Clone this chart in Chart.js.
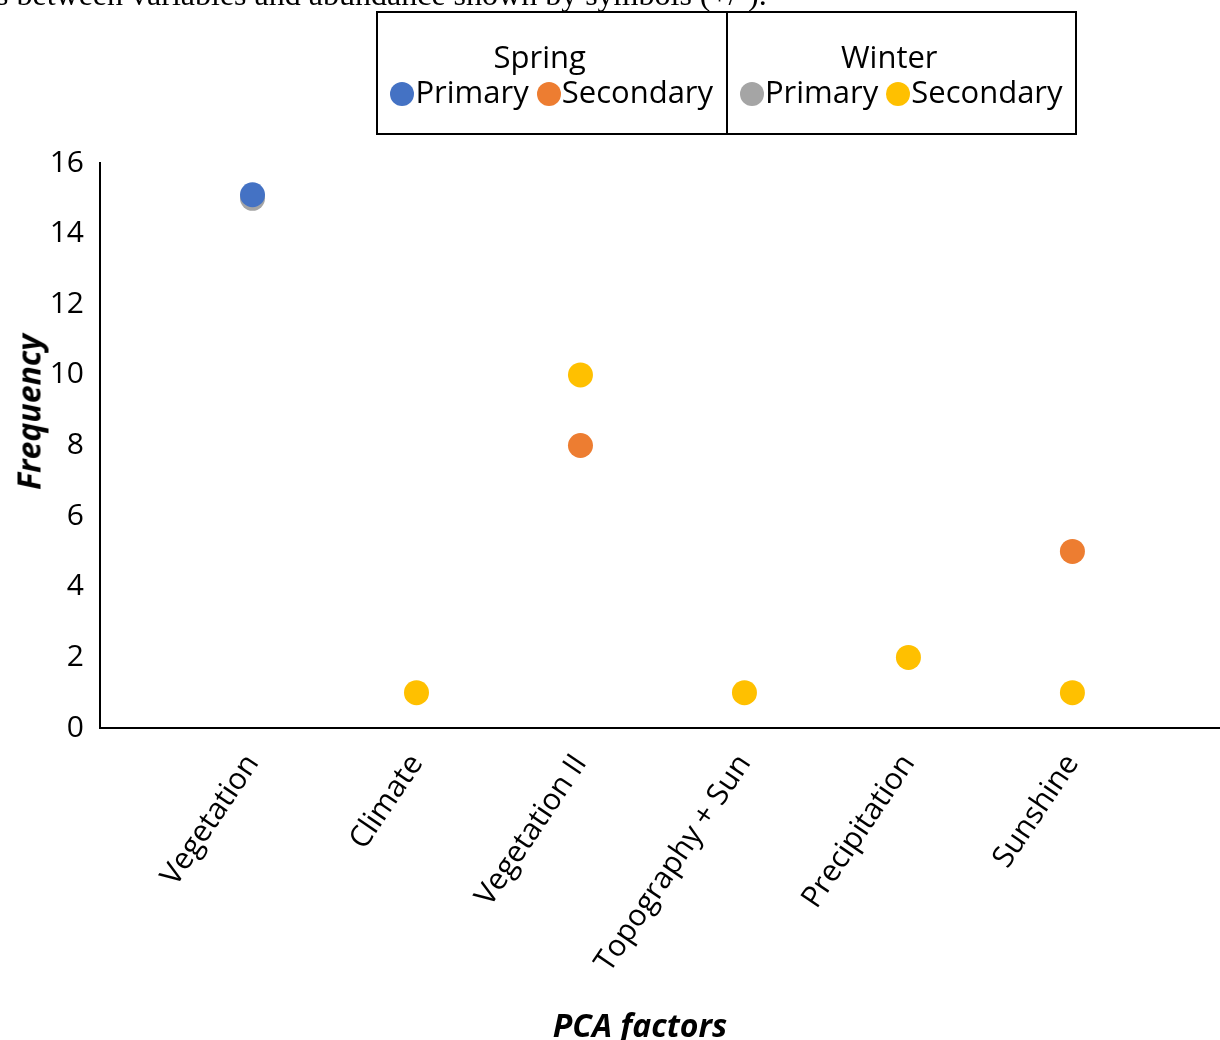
<!DOCTYPE html>
<html>
<head>
<meta charset="utf-8">
<script src="https://cdn.jsdelivr.net/npm/chart.js@4/dist/chart.umd.min.js"></script>
<style>
  html, body { margin: 0; padding: 0; background: #fff; overflow: hidden; }
  #wrap { position: relative; width: 1220px; height: 1040px; overflow: hidden; }
  #chart { position: absolute; left: 0; top: 0; }
  #caption {
    position: absolute; left: -4px; top: -24px; white-space: nowrap;
    font-family: "Liberation Serif", "Times New Roman", serif; font-size: 32px; color: #000;
  }
  #legend {
    position: absolute; left: 376px; top: 11px; width: 701px; height: 124px;
    border: 2px solid #000; box-sizing: border-box; display: flex;
    font-family: "Open Sans", "Noto Sans", sans-serif; color: #000;
  }
  .half { flex: 1; position: relative; }
  .half + .half { border-left: 2px solid #000; }
  .ttl { position: absolute; left: 0; right: 24px; top: 24px; text-align: center; font-size: 31px; line-height: 38px; }
  .row { position: absolute; left: 0; right: 0; top: 59px; text-align: center; font-size: 31px; line-height: 38px; white-space: nowrap; }
  .dot { display: inline-block; width: 24px; height: 24px; border-radius: 50%; vertical-align: -3px; margin-right: 1px; }
  .axtitle {
    position: absolute; white-space: nowrap; color: #000;
    font-family: "Open Sans", "Noto Sans", sans-serif; font-size: 32px; font-weight: bold; font-style: italic;
    transform: translate(-50%, -50%);
  }
  #ytitle { left: 28px; top: 412px; transform: translate(-50%, -50%) rotate(-90deg); }
  #xtitle { left: 640px; top: 1024px; }
</style>
</head>
<body>
<div id="wrap">
  <canvas id="chart" width="1220" height="1040"></canvas>
  <div id="caption">s between variables and abundance shown by symbols (+/-).</div>
  <div id="legend">
    <div class="half">
      <div class="ttl">Spring</div>
      <div class="row"><span class="dot" style="background:#4472C4"></span>Primary <span class="dot" style="background:#ED7D31"></span>Secondary</div>
    </div>
    <div class="half">
      <div class="ttl">Winter</div>
      <div class="row"><span class="dot" style="background:#A5A5A5"></span>Primary <span class="dot" style="background:#FFC000"></span>Secondary</div>
    </div>
  </div>
  <div class="axtitle" id="ytitle">Frequency</div>
  <div class="axtitle" id="xtitle">PCA factors</div>
</div>
<script>
// PCA factor categories along the x axis
const categories = ['Vegetation', 'Climate', 'Vegetation II', 'Topography + Sun', 'Precipitation', 'Sunshine'];

// Frequency per factor (null = no point)
const springPrimary   = [15.1, null, null, null, null, null];
const springSecondary = [null, null, 8, null, null, 5];
const winterPrimary   = [15, null, null, null, null, null];
const winterSecondary = [null, 1, 10, 1, 2, 1];

// y-axis tick values
const yTicks = [0, 2, 4, 6, 8, 10, 12, 14, 16];

const FONT = '"Open Sans", "Noto Sans", sans-serif';

function toPoints(values) {
  return values.map((v, i) => (v === null ? null : { x: i, y: v })).filter(p => p);
}

function series(label, values, color) {
  return {
    label,
    data: toPoints(values),
    backgroundColor: color,
    borderColor: color,
    pointRadius: 12.5,
    pointHoverRadius: 12.5,
    pointBorderWidth: 0,
    showLine: false
  };
}

// Datasets listed first are painted last (on top)
new Chart(document.getElementById('chart'), {
  type: 'scatter',
  data: {
    datasets: [
      series('Spring Primary', springPrimary, '#4472C4'),
      series('Winter Primary', winterPrimary, '#A5A5A5'),
      series('Spring Secondary', springSecondary, '#ED7D31'),
      series('Winter Secondary', winterSecondary, '#FFC000')
    ]
  },
  options: {
    responsive: false,
    animation: false,
    events: [],
    layout: { autoPadding: false, padding: { top: 163, right: 0, left: 0, bottom: 0 } },
    plugins: { legend: { display: false }, tooltip: { enabled: false } },
    scales: {
      x: {
        type: 'linear',
        min: -0.93,
        max: 5.9,
        afterBuildTicks: s => { s.ticks = categories.map((_, i) => ({ value: i })); },
        afterFit: s => { s.height = 312; s.paddingLeft = 0; s.paddingRight = 0; },
        grid: { display: false, drawTicks: false },
        border: { display: true, color: '#000', width: 2 },
        ticks: {
          autoSkip: false,
          minRotation: 56,
          maxRotation: 56,
          padding: 20,
          color: '#000',
          font: { family: FONT, size: 30 },
          callback: v => categories[v]
        }
      },
      y: {
        min: 0,
        max: 16,
        afterBuildTicks: s => { s.ticks = yTicks.map(v => ({ value: v })); },
        afterFit: s => { s.width = 100; s.paddingTop = 0; s.paddingBottom = 0; },
        grid: { display: false, drawTicks: false },
        border: { display: true, color: '#000', width: 2 },
        ticks: {
          padding: 16,
          color: '#000',
          font: { family: FONT, size: 30 }
        }
      }
    }
  }
});
</script>
</body>
</html>
